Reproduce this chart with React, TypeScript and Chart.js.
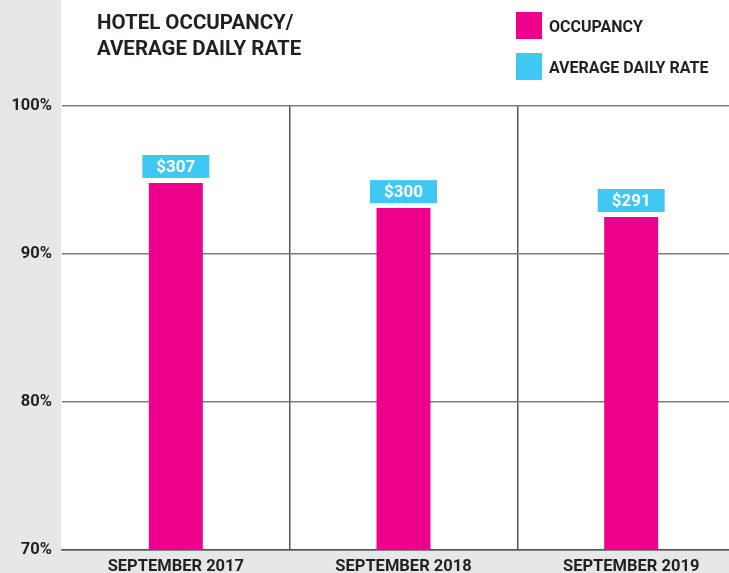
import React, { useEffect, useRef } from "react";
import { Chart, registerables } from "chart.js";

Chart.register(...registerables);

const MAGENTA = "#ec008c";
const CYAN = "#40c8f4";
const INK = "#231f20";
const PANEL_GRAY = "#e6e7e8";
const GRID = "#7d7d7d";

const categories = ["SEPTEMBER 2017", "SEPTEMBER 2018", "SEPTEMBER 2019"];
const occupancy = [94.8, 93.1, 92.5];
const averageDailyRate = ["$307", "$300", "$291"];
const yMin = 70;
const yMax = 100;
const yStep = 10;
const titleLines = ["HOTEL OCCUPANCY/", "AVERAGE DAILY RATE"];
const legendLabels = ["OCCUPANCY", "AVERAGE DAILY RATE"];
const legendColors = [MAGENTA, CYAN];

const FONT = "Roboto, 'Liberation Sans', Arial, sans-serif";
const VIEW_W = 729;
const VIEW_H = 573;
const CANVAS_W = 745; // plot runs past the right edge of the frame, as in the original

const decorPlugin = {
  id: "decor",
  beforeDraw(chart: any) {
    const { ctx, chartArea, width, height } = chart;
    ctx.save();
    ctx.fillStyle = PANEL_GRAY;
    ctx.fillRect(0, 0, width, height);
    ctx.fillStyle = "#ffffff";
    ctx.fillRect(chartArea.left - 1, 0, width - chartArea.left + 1, chartArea.bottom);
    ctx.restore();
  },
  afterDraw(chart: any) {
    const { ctx, chartArea } = chart;
    ctx.save();
    ctx.fillStyle = INK;
    ctx.font = `bold 20.5px ${FONT}`;
    ctx.textAlign = "left";
    ctx.textBaseline = "alphabetic";
    titleLines.forEach((line, i) => {
      ctx.fillText(line, chartArea.left + 35, 29 + i * 26);
    });
    const lx = chartArea.left + 454;
    legendLabels.forEach((label, i) => {
      const top = 12 + i * 41;
      ctx.fillStyle = legendColors[i];
      ctx.fillRect(lx, top, 26, 27);
      ctx.fillStyle = INK;
      ctx.font = `bold 16px ${FONT}`;
      ctx.textBaseline = "alphabetic";
      ctx.fillText(label, lx + 33, top + 20);
    });
    ctx.restore();
  },
  afterDatasetsDraw(chart: any) {
    const { ctx } = chart;
    const meta = chart.getDatasetMeta(0);
    ctx.save();
    meta.data.forEach((bar: any, i: number) => {
      const w = 67;
      const h = 23;
      const bx = bar.x - w / 2;
      const by = bar.y - 5 - h;
      ctx.fillStyle = CYAN;
      ctx.fillRect(bx, by, w, h);
      ctx.fillStyle = "#ffffff";
      ctx.font = `bold 17px ${FONT}`;
      ctx.textAlign = "center";
      ctx.textBaseline = "middle";
      ctx.fillText(averageDailyRate[i], bar.x, by + h / 2 + 1);
    });
    ctx.restore();
  },
};

export default function App() {
  const canvasRef = useRef<HTMLCanvasElement | null>(null);

  useEffect(() => {
    const canvas = canvasRef.current;
    if (!canvas) return;
    const chart = new Chart(canvas, {
      type: "bar",
      data: {
        labels: categories,
        datasets: [
          {
            label: legendLabels[0],
            data: occupancy,
            backgroundColor: MAGENTA,
            borderWidth: 0,
            barPercentage: 0.237,
            categoryPercentage: 1,
          },
        ],
      },
      options: {
        responsive: false,
        animation: false,
        devicePixelRatio: 1,
        layout: { padding: { top: 106, left: 0, right: 0, bottom: 0 } },
        plugins: {
          legend: { display: false },
          title: { display: false },
          tooltip: { enabled: false },
        },
        scales: {
          x: {
            offset: true,
            afterFit: (s: any) => {
              s.height = 23;
            },
            grid: {
              offset: true,
              drawTicks: false,
              lineWidth: 1.5,
              color: (c: any) => (c.index === 0 ? "rgba(0,0,0,0)" : "#555555"),
            },
            border: { display: true, color: "#555555", width: 1.5 },
            ticks: {
              color: INK,
              padding: 7,
              font: { family: FONT, size: 16.5, weight: "bold" },
              maxRotation: 0,
            },
          },
          y: {
            min: yMin,
            max: yMax,
            afterFit: (s: any) => {
              s.width = 62;
            },
            grid: { drawTicks: false, color: GRID, lineWidth: 1.5 },
            border: { display: false },
            ticks: {
              stepSize: yStep,
              padding: 10,
              color: INK,
              font: { family: FONT, size: 16.5, weight: "bold" },
              callback: (v: any) => `${v}%`,
            },
          },
        },
      },
      plugins: [decorPlugin],
    });
    return () => chart.destroy();
  }, []);

  return (
    <div
      style={{
        position: "fixed",
        left: 0,
        top: 0,
        width: VIEW_W,
        height: VIEW_H,
        overflow: "hidden",
      }}
    >
      <canvas ref={canvasRef} width={CANVAS_W} height={VIEW_H} style={{ display: "block" }} />
    </div>
  );
}
